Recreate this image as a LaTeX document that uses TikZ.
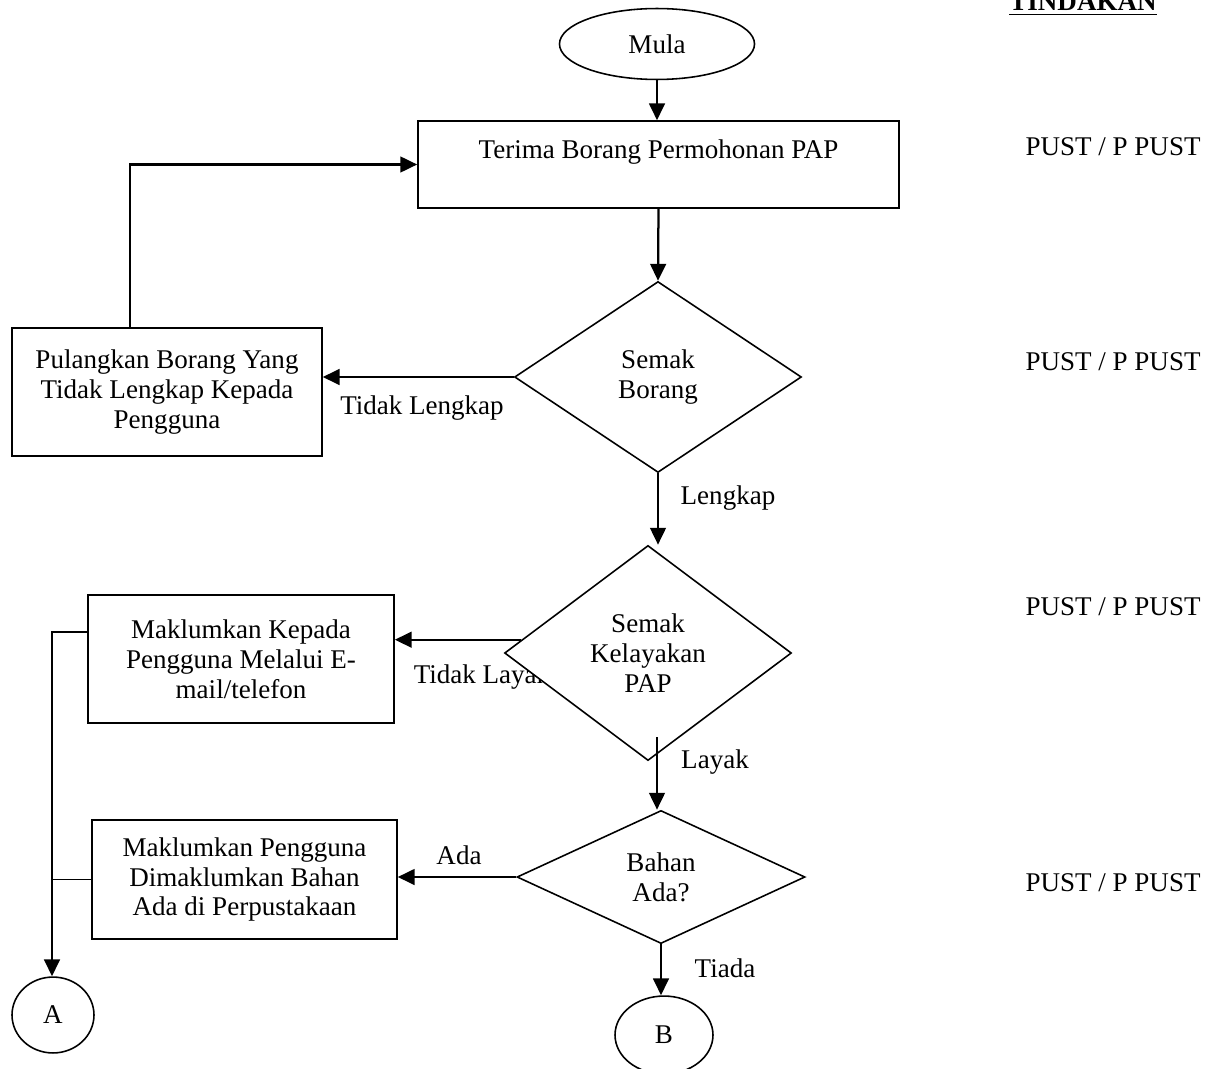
\documentclass[tikz,border=0pt]{standalone}
\usepackage{fontspec}
\setmainfont{Liberation Serif}
\usepackage{tikz}
\usetikzlibrary{arrows.meta, shapes.geometric}

\begin{document}
\begin{tikzpicture}[x=0.444pt, y=-0.444pt,
    font=\fontsize{12}{13.3}\selectfont,
    box/.style={rectangle, draw, line width=0.7pt, align=center, inner sep=0pt},
    decision/.style={diamond, draw, fill=white, line width=0.7pt, align=center, inner sep=0pt},
    terminal/.style={ellipse, draw, line width=0.7pt, inner sep=0pt},
    edge/.style={-{Triangle[length=7.5pt, width=7pt]}, line width=1pt},
    tag/.style={inner sep=1pt},
    role/.style={anchor=east, inner sep=0pt}
    ]
    \useasboundingbox (0,0) rectangle (1209,1068);

    % 被菱形挡住一半的标签(先画)
    \node[tag] (tlayak) at (482,677) {Tidak Layak};

    % 节点
    \node[terminal, minimum width=86.6pt, minimum height=31.5pt] (mula) at (657,44) {Mula};
    \node[box, minimum width=213.6pt, minimum height=38.6pt] (terima) at (658.5,164.5) {Terima Borang Permohonan PAP\\ ~};
    \node[decision, minimum width=127.4pt, minimum height=84.8pt] (borang) at (658,377) {Semak\\ Borang};
    \node[box, minimum width=137.6pt, minimum height=56.8pt] (pulang) at (167,392) {Pulangkan Borang Yang\\ Tidak Lengkap Kepada\\ Pengguna};
    \node[decision, minimum width=127.4pt, minimum height=95.5pt] (layak) at (648,653) {Semak\\ Kelayakan\\ PAP};
    \node[box, minimum width=135.9pt, minimum height=56.8pt] (maklum1) at (241,659) {Maklumkan Kepada\\ Pengguna Melalui E-\\ mail/telefon};
    \node[decision, minimum width=127.9pt, minimum height=59.1pt] (bahan) at (661,877) {Bahan\\ Ada?};
    \node[box, minimum width=135.4pt, minimum height=52.8pt] (maklum2) at (244.5,879.5) {Maklumkan Pengguna\\ Dimaklumkan Bahan\\ Ada di Perpustakaan};
    \node[terminal, minimum width=36.4pt, minimum height=33.7pt] (A) at (53,1015) {A};
    \node[terminal, minimum width=43.5pt, minimum height=34.6pt] (B) at (664,1035) {B};

    % 右边一栏
    \node[anchor=base, inner sep=0pt] (tindakan) at (1083,11) {\bfseries\underline{TINDAKAN}};
    \node[role] (p1) at (1201,147) {PUST / P PUST};
    \node[role] (p2) at (1201,362) {PUST / P PUST};
    \node[role] (p3) at (1201,607) {PUST / P PUST};
    \node[role] (p4) at (1201,883) {PUST / P PUST};

    % 辅助点
    \coordinate (back) at (130,161);
    \coordinate (lyk) at (657,737);
    \coordinate (rail) at (52,632);

    % 主线
    \draw[edge] (mula.south) -- (mula.south |- terima.north);
    \draw[edge] (terima.south) -- (borang.north);
    \draw[edge] (borang.south) -- (borang.south |- layak.north);
    \draw[edge] (lyk) -- (lyk |- bahan.north);
    \draw[edge] (bahan.south) -- (bahan.south |- B.north);

    % 分支
    \draw[edge] (borang.west) -- (borang.west -| pulang.east);
    \draw[edge] (pulang.north -| back) |- (terima.west);
    \draw[edge] (layak.174) -- (layak.174 -| maklum1.east);
    \draw[edge] (bahan.west) -- (bahan.west -| maklum2.east);
    \draw[edge] (rail -| maklum1.west) -- (rail) -- (rail |- A.north);
    \draw[line width=0.7pt] (maklum2.west) -- (maklum2.west -| rail);

    % 其余标签
    \node[tag] (tlengkap) at (422,408) {Tidak Lengkap};
    \node[tag] (lengkap) at (728,498) {Lengkap};
    \node[tag] (layaklbl) at (715,762) {Layak};
    \node[tag] (ada) at (459,855) {Ada};
    \node[tag] (tiada) at (725,968) {Tiada};

\end{tikzpicture}
\end{document}
